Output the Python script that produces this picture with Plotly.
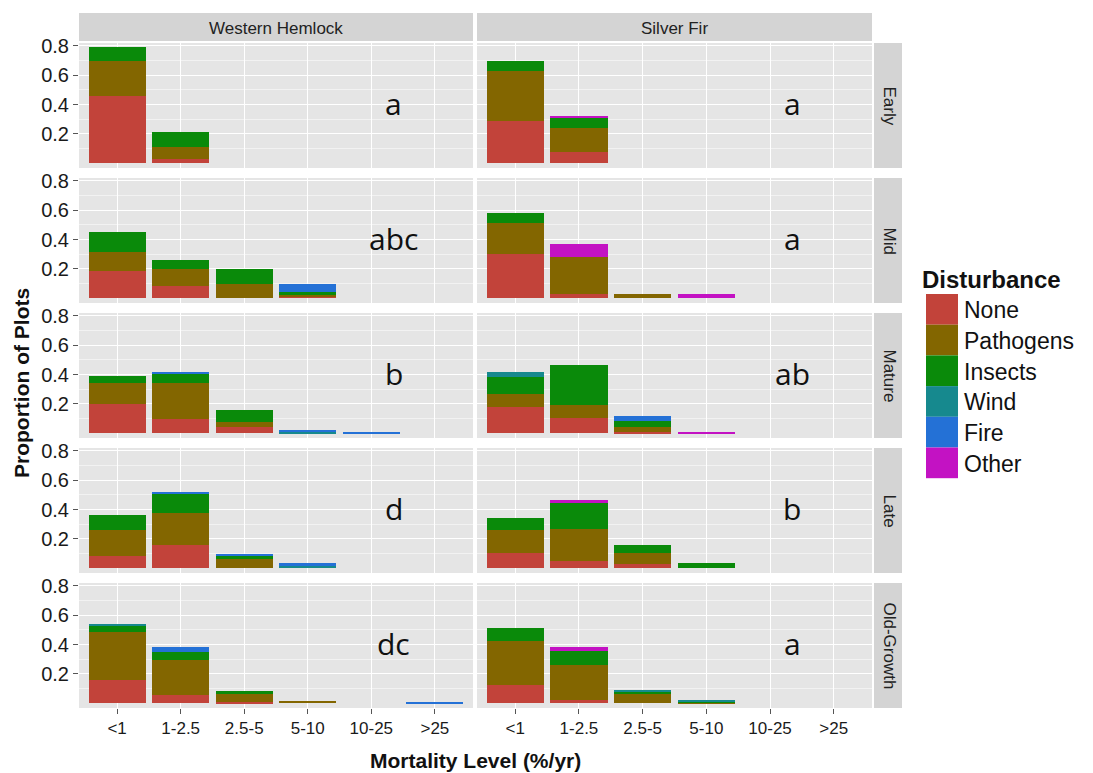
import plotly.graph_objects as go

CATEGORIES = ["<1", "1-2.5", "2.5-5", "5-10", "10-25", ">25"]
SPECIES = ["Western Hemlock", "Silver Fir"]
STAGES = ["Early", "Mid", "Mature", "Late", "Old-Growth"]
DISTURBANCES = ["None", "Pathogens", "Insects", "Wind", "Fire", "Other"]
COLORS = ["#C2433A", "#836600", "#0A8A0A", "#16898E", "#2471D6", "#C312C3"]

# values per panel: one list per disturbance, over the 6 mortality categories
WH_EARLY = {"None": [0.46, 0.027, 0, 0, 0, 0], "Pathogens": [0.24, 0.087, 0, 0, 0, 0],
            "Insects": [0.09, 0.10, 0, 0, 0, 0], "Wind": [0, 0, 0, 0, 0, 0],
            "Fire": [0, 0, 0, 0, 0, 0], "Other": [0, 0, 0, 0, 0, 0]}
SF_EARLY = {"None": [0.29, 0.08, 0, 0, 0, 0], "Pathogens": [0.34, 0.16, 0, 0, 0, 0],
            "Insects": [0.07, 0.07, 0, 0, 0, 0], "Wind": [0, 0, 0, 0, 0, 0],
            "Fire": [0, 0, 0, 0, 0, 0], "Other": [0, 0.01, 0, 0, 0, 0]}
WH_MID = {"None": [0.186, 0.084, 0, 0.015, 0, 0], "Pathogens": [0.132, 0.114, 0.098, 0.01, 0, 0],
          "Insects": [0.137, 0.063, 0.10, 0.015, 0, 0], "Wind": [0, 0, 0, 0, 0, 0],
          "Fire": [0, 0, 0, 0.055, 0, 0], "Other": [0, 0, 0, 0, 0, 0]}
SF_MID = {"None": [0.30, 0.03, 0, 0, 0, 0], "Pathogens": [0.216, 0.25, 0.03, 0, 0, 0],
          "Insects": [0.068, 0, 0, 0, 0, 0], "Wind": [0, 0, 0, 0, 0, 0],
          "Fire": [0, 0, 0, 0, 0, 0], "Other": [0, 0.09, 0, 0.03, 0, 0]}
WH_MATURE = {"None": [0.198, 0.098, 0.04, 0, 0, 0], "Pathogens": [0.143, 0.243, 0.035, 0, 0, 0],
             "Insects": [0.052, 0.068, 0.082, 0, 0, 0], "Wind": [0, 0, 0, 0.012, 0, 0],
             "Fire": [0, 0.01, 0, 0.012, 0.008, 0], "Other": [0, 0, 0, 0, 0, 0]}
SF_MATURE = {"None": [0.182, 0.107, 0.01, 0, 0, 0], "Pathogens": [0.086, 0.086, 0.035, 0, 0, 0],
             "Insects": [0.118, 0.27, 0.041, 0, 0, 0], "Wind": [0.034, 0, 0, 0, 0, 0],
             "Fire": [0, 0, 0.032, 0, 0, 0], "Other": [0, 0, 0, 0.008, 0, 0]}
WH_LATE = {"None": [0.086, 0.157, 0, 0, 0, 0], "Pathogens": [0.175, 0.22, 0.061, 0, 0, 0],
           "Insects": [0.10, 0.13, 0.023, 0, 0, 0], "Wind": [0, 0, 0, 0.017, 0, 0],
           "Fire": [0, 0.016, 0.016, 0.017, 0, 0], "Other": [0, 0, 0, 0, 0, 0]}
SF_LATE = {"None": [0.102, 0.052, 0.03, 0, 0, 0], "Pathogens": [0.159, 0.216, 0.077, 0, 0, 0],
           "Insects": [0.084, 0.175, 0.05, 0.034, 0, 0], "Wind": [0, 0, 0, 0, 0, 0],
           "Fire": [0, 0, 0, 0, 0, 0], "Other": [0, 0.02, 0, 0, 0, 0]}
WH_OLD = {"None": [0.161, 0.057, 0.01, 0, 0, 0], "Pathogens": [0.323, 0.241, 0.051, 0.014, 0, 0],
          "Insects": [0.043, 0.054, 0.02, 0, 0, 0], "Wind": [0.01, 0, 0, 0, 0, 0],
          "Fire": [0, 0.034, 0, 0, 0, 0.007], "Other": [0, 0, 0, 0, 0, 0]}
SF_OLD = {"None": [0.125, 0.025, 0, 0, 0, 0], "Pathogens": [0.298, 0.239, 0.064, 0.007, 0, 0],
          "Insects": [0.089, 0.093, 0.016, 0.007, 0, 0], "Wind": [0, 0, 0.007, 0.006, 0, 0],
          "Fire": [0, 0, 0, 0, 0, 0], "Other": [0, 0.029, 0, 0, 0, 0]}

LETTERS_WH = ["a", "abc", "b", "d", "dc"]
LETTERS_SF = ["a", "a", "ab", "b", "a"]
Y_TICKS = [0.2, 0.4, 0.6, 0.8]

PANEL_DATA = [[WH_EARLY, SF_EARLY], [WH_MID, SF_MID], [WH_MATURE, SF_MATURE],
              [WH_LATE, SF_LATE], [WH_OLD, SF_OLD]]
LETTERS = [LETTERS_WH, LETTERS_SF]

W, H = 1093, 773
COLS_PX = [(79, 473), (477, 872)]
ROW_TOP = [43, 178, 313, 448, 583]
ROW_H = 125
STRIP_TOP = (13, 41)
RSTRIP = (874, 902)

def fx(x):
    return x / W

def fy(y):
    return 1 - y / H

FONT = "Liberation Sans, Arial, sans-serif"
fig = go.Figure()
layout = dict(width=W, height=H, margin=dict(l=0, r=0, t=0, b=0, pad=0, autoexpand=False),
              paper_bgcolor="white", plot_bgcolor="#E5E5E5", barmode="stack",
              showlegend=False, font=dict(family=FONT, color="#1a1a1a"))
annotations, shapes = [], []
xs = [1, 2, 3, 4, 5, 6]

def note(x, y, text, size, xanchor="center", angle=0, color="#111111", family=FONT):
    return dict(x=x, y=y, xref="paper", yref="paper", text=text, showarrow=False,
                xanchor=xanchor, yanchor="middle", textangle=angle,
                font=dict(size=size, color=color, family=family))

for r in range(5):
    for c in range(2):
        idx = r * 2 + c + 1
        xn = "x" if idx == 1 else f"x{idx}"
        yn = "y" if idx == 1 else f"y{idx}"
        data = PANEL_DATA[r][c]
        for d, col in zip(DISTURBANCES, COLORS):
            fig.add_trace(go.Bar(x=xs, y=data[d], name=d, width=0.9,
                                 marker=dict(color=col, line=dict(width=0)),
                                 xaxis=xn, yaxis=yn, showlegend=False))
        x0, x1 = COLS_PX[c]
        ytop = ROW_TOP[r]
        layout["xaxis" if idx == 1 else f"xaxis{idx}"] = dict(
            domain=[fx(x0), fx(x1)], anchor=yn, range=[0.4, 6.6], automargin=False,
            tickvals=xs, ticktext=CATEGORIES, showticklabels=(r == 4),
            ticks="outside" if r == 4 else "", ticklen=5, tickcolor="#555555",
            showgrid=True, gridcolor="white", gridwidth=1.3, zeroline=False,
            tickfont=dict(size=17, color="#1a1a1a", family=FONT))
        layout["yaxis" if idx == 1 else f"yaxis{idx}"] = dict(
            domain=[fy(ytop + ROW_H), fy(ytop)], anchor=xn, range=[-0.032, 0.82],
            automargin=False,
            tickvals=Y_TICKS, ticktext=[f"{v:.1f}" for v in Y_TICKS],
            showticklabels=(c == 0), ticks="outside" if c == 0 else "", ticklen=5,
            tickcolor="#555555", showgrid=True, gridcolor="white", gridwidth=1.3,
            zeroline=False, tickfont=dict(size=20, color="#1a1a1a", family=FONT),
            minor=dict(tick0=0.1, dtick=0.2, showgrid=True, gridcolor="#F2F2F2",
                       gridwidth=0.7, ticks=""))
        annotations.append(dict(x=5.35, y=0.41, xref=xn, yref=yn, text=LETTERS[c][r],
                                showarrow=False, xanchor="center", yanchor="middle",
                                font=dict(size=30, color="#111111",
                                          family="Open Sans, sans-serif")))

# strips
for c, sp in enumerate(SPECIES):
    x0, x1 = COLS_PX[c]
    shapes.append(dict(type="rect", xref="paper", yref="paper", x0=fx(x0), x1=fx(x1),
                       y0=fy(STRIP_TOP[1]), y1=fy(STRIP_TOP[0]), fillcolor="#D4D4D4",
                       line=dict(width=0), layer="below"))
    annotations.append(note(fx((x0 + x1) / 2), fy(sum(STRIP_TOP) / 2 + 1), sp, 17,
                            color="#222222"))
for r, st in enumerate(STAGES):
    shapes.append(dict(type="rect", xref="paper", yref="paper", x0=fx(RSTRIP[0]),
                       x1=fx(RSTRIP[1]), y0=fy(ROW_TOP[r] + ROW_H), y1=fy(ROW_TOP[r]),
                       fillcolor="#D4D4D4", line=dict(width=0), layer="below"))
    annotations.append(note(fx(sum(RSTRIP) / 2 + 1), fy(ROW_TOP[r] + ROW_H / 2), st, 17,
                            angle=90, color="#222222"))

# axis titles
annotations.append(note(fx(475), fy(760), "<b>Mortality Level (%/yr)</b>", 21))
annotations.append(note(fx(22), fy(383), "<b>Proportion of Plots</b>", 21, angle=-90))

# legend (manual)
annotations.append(note(fx(920), fy(280), "<b>Disturbance</b>", 24, xanchor="left"))
key_top, key_h = 294, 30.7
for i, (d, col) in enumerate(zip(DISTURBANCES, COLORS)):
    y0 = key_top + i * key_h
    shapes.append(dict(type="rect", xref="paper", yref="paper", x0=fx(926), x1=fx(958),
                       y0=fy(y0 + key_h), y1=fy(y0), fillcolor=col, line=dict(width=0)))
    annotations.append(note(fx(962), fy(y0 + key_h / 2 + 1), d, 23, xanchor="left"))

layout["annotations"] = annotations
layout["shapes"] = shapes
fig.update_layout(**layout)
fig.write_html("out.html")
